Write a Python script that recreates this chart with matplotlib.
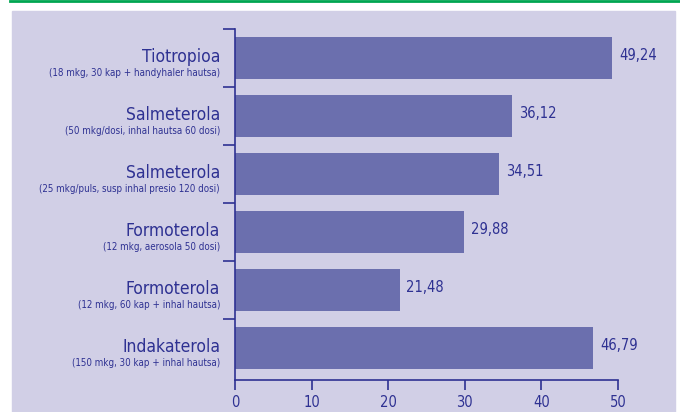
import matplotlib.pyplot as plt
from matplotlib.patches import Rectangle
from matplotlib.lines import Line2D

names = ["Tiotropioa", "Salmeterola", "Salmeterola", "Formoterola", "Formoterola", "Indakaterola"]
details = ["(18 mkg, 30 kap + handyhaler hautsa)",
           "(50 mkg/dosi, inhal hautsa 60 dosi)",
           "(25 mkg/puls, susp inhal presio 120 dosi)",
           "(12 mkg, aerosola 50 dosi)",
           "(12 mkg, 60 kap + inhal hautsa)",
           "(150 mkg, 30 kap + inhal hautsa)"]
values = [49.24, 36.12, 34.51, 29.88, 21.48, 46.79]
xticks = [0, 10, 20, 30, 40, 50]

navy = "#2e3192"
bar_col = "#6b6fae"
bg = "#d1cfe6"
plt.rcParams['font.family'] = ["DejaVu Sans"]
plt.rcParams['font.stretch'] = "condensed"

fig = plt.figure(figsize=(6.8, 4.12), dpi=100)
fig.patches.append(Rectangle((12 / 680, 0), 663 / 680, 1 - 11 / 412,
                             transform=fig.transFigure, color=bg, zorder=-5))
fig.lines.append(Line2D([10 / 680, 1], [0.997, 0.997], transform=fig.transFigure,
                        color="#00a651", lw=2, zorder=-5))

ax = fig.add_axes([235 / 680, 1 - 380 / 412, 383 / 680, 351 / 412])
ax.patch.set_visible(False)
pos = list(range(len(values)))
ax.barh(pos, values, height=0.72, color=bar_col)
ax.set_xlim(0, 50)
ax.set_ylim(5.5 + 3 / 58, -0.5)

for sp in ["top", "right"]:
    ax.spines[sp].set_visible(False)
for sp in ["left", "bottom"]:
    ax.spines[sp].set_color(navy)
    ax.spines[sp].set_linewidth(1.2)

ax.set_xticks(xticks)
ax.set_xticklabels([str(t) for t in xticks])
ax.tick_params(axis="x", colors=navy, labelsize=10.5, length=7, width=1.2, pad=4)
ax.set_yticks([-0.5, 0.5, 1.5, 2.5, 3.5, 4.5])
ax.set_yticklabels([])
ax.tick_params(axis="y", colors=navy, length=9, width=1.2)

for i, (n, d, v) in enumerate(zip(names, details, values)):
    ax.text(-15 / 7.66, i + 0.07, n, ha="right", va="baseline", fontsize=12.5, color=navy)
    ax.text(-15 / 7.66, i + 0.31, d, ha="right", va="baseline", fontsize=7, color=navy)
    ax.text(v + 0.9, i - 0.04, f"{v:.2f}".replace(".", ","), ha="left", va="center",
            fontsize=10.5, color=navy)

fig.savefig("out.png", dpi=100)
